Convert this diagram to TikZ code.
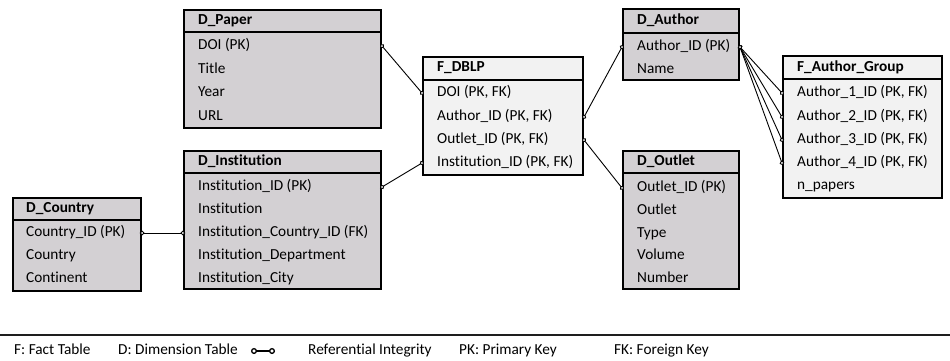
\documentclass[tikz,border=0pt]{standalone}
\usepackage{fontspec}
\setmainfont{Carlito}[Ligatures=CommonOff]
\usetikzlibrary{arrows.meta}
\definecolor{dimfill}{RGB}{211,208,211}
\definecolor{factfill}{RGB}{242,242,242}
\definecolor{linegray}{RGB}{30,30,30}
\tikzset{
  tbl/.style={draw=black, line width=2pt, inner sep=0pt, anchor=north west},
  txt/.style={anchor=west, inner sep=0pt, text height=10.5pt, text depth=3pt},
  hdr/.style={txt, font=\fontsize{15.3}{17}\selectfont\bfseries},
  row/.style={txt, font=\fontsize{15.3}{17}\selectfont},
  sep/.style={line width=1.6pt},
  rel/.style={line width=0.9pt, {Circle[open,fill=white,length=4.6pt,width=4.6pt,line width=0.9pt]}-{Circle[open,fill=white,length=4.6pt,width=4.6pt,line width=0.9pt]}, shorten <=-2.2pt, shorten >=-2.2pt},
  legrel/.style={line width=1.3pt, {Circle[open,fill=white,length=6pt,width=6pt,line width=1.3pt]}-{Circle[open,fill=white,length=6pt,width=6pt,line width=1.3pt]}},
  leg/.style={txt, font=\fontsize{15.3}{17}\selectfont}
}
\begin{document}
\begin{tikzpicture}[x=1pt,y=-1pt]
\useasboundingbox (0,0) rectangle (950,360);
% D_Paper
\node[tbl, fill=dimfill, minimum width=197pt, minimum height=118pt] (paper) at (183,9) {};
\draw[sep] (183,32) -- (380,32);
\node[hdr] (paper-h) at (198,21) {D\_Paper};
\node[row] (paper-1) at (198,46) {DOI (PK)};
\node[row] (paper-2) at (198,70) {Title};
\node[row] (paper-3) at (198,93) {Year};
\node[row] (paper-4) at (198,117) {URL};
% F_DBLP
\node[tbl, fill=factfill, minimum width=160pt, minimum height=118pt] (dblp) at (422,56) {};
\draw[sep] (422,80) -- (582,80);
\node[hdr] (dblp-h) at (437,68) {F\_DBLP};
\node[row] (dblp-1) at (437,93) {DOI (PK, FK)};
\node[row] (dblp-2) at (437,117) {Author\_ID (PK, FK)};
\node[row] (dblp-3) at (437,140) {Outlet\_ID (PK, FK)};
\node[row] (dblp-4) at (437,163) {Institution\_ID (PK, FK)};
% D_Author
\node[tbl, fill=dimfill, minimum width=116pt, minimum height=71pt] (author) at (622,8) {};
\draw[sep] (622,33) -- (738,33);
\node[hdr] (author-h) at (637,21) {D\_Author};
\node[row] (author-1) at (637,47) {Author\_ID (PK)};
\node[row] (author-2) at (637,70) {Name};
% F_Author_Group
\node[tbl, fill=factfill, minimum width=159pt, minimum height=142pt] (group) at (782,55) {};
\draw[sep] (782,79) -- (941,79);
\node[hdr] (group-h) at (797,68) {F\_Author\_Group};
\node[row] (group-1) at (797,93) {Author\_1\_ID (PK, FK)};
\node[row] (group-2) at (797,117) {Author\_2\_ID (PK, FK)};
\node[row] (group-3) at (797,140) {Author\_3\_ID (PK, FK)};
\node[row] (group-4) at (797,163) {Author\_4\_ID (PK, FK)};
\node[row] (group-5) at (797,186) {n\_papers};
% D_Country
\node[tbl, fill=dimfill, minimum width=128pt, minimum height=93pt] (country) at (12,197) {};
\draw[sep] (12,220) -- (140,220);
\node[hdr] (country-h) at (26,209) {D\_Country};
\node[row] (country-1) at (26,233) {Country\_ID (PK)};
\node[row] (country-2) at (26,256) {Country};
\node[row] (country-3) at (26,279) {Continent};
% D_Institution
\node[tbl, fill=dimfill, minimum width=197pt, minimum height=138pt] (inst) at (183,150) {};
\draw[sep] (183,173) -- (380,173);
\node[hdr] (inst-h) at (198,162) {D\_Institution};
\node[row] (inst-1) at (198,187) {Institution\_ID (PK)};
\node[row] (inst-2) at (198,210) {Institution};
\node[row] (inst-3) at (198,233) {Institution\_Country\_ID (FK)};
\node[row] (inst-4) at (198,256) {Institution\_Department};
\node[row] (inst-5) at (198,279) {Institution\_City};
% D_Outlet
\node[tbl, fill=dimfill, minimum width=116pt, minimum height=138pt] (outlet) at (622,150) {};
\draw[sep] (622,173) -- (738,173);
\node[hdr] (outlet-h) at (637,162) {D\_Outlet};
\node[row] (outlet-1) at (637,188) {Outlet\_ID (PK)};
\node[row] (outlet-2) at (637,211) {Outlet};
\node[row] (outlet-3) at (637,234) {Type};
\node[row] (outlet-4) at (637,256) {Volume};
\node[row] (outlet-5) at (637,279) {Number};
% connectors
\draw[rel] (paper-1 -| paper.east) -- (dblp-1 -| dblp.west);
\draw[rel] (inst-1 -| inst.east) -- (dblp-4 -| dblp.west);
\draw[rel] (country-1 -| country.east) -- (inst-3 -| inst.west);
\draw[rel] (dblp-2 -| dblp.east) -- (author-1 -| author.west);
\draw[rel] (dblp-3 -| dblp.east) -- (outlet-1 -| outlet.west);
\draw[rel] (author-1 -| author.east) -- (group-1 -| group.west);
\draw[rel] (author-1 -| author.east) -- (group-2 -| group.west);
\draw[rel] (author-1 -| author.east) -- (group-3 -| group.west);
\draw[rel] (author-1 -| author.east) -- (group-4 -| group.west);
% legend
\coordinate (rule-l) at (0,335);
\coordinate (rule-r) at (950,335);
\draw[line width=2pt, draw=linegray] (rule-l) -- (rule-r);
\node[leg] (leg-f) at (14,351) {F: Fact Table};
\node[leg] (leg-d) at (118,351) {D: Dimension Table};
\coordinate (sym-a) at (251,351);
\coordinate (sym-b) at (275,351);
\draw[legrel] (sym-a) -- (sym-b);
\node[leg] (leg-r) at (308,351) {Referential Integrity};
\node[leg] (leg-pk) at (459,351) {PK: Primary Key};
\node[leg] (leg-fk) at (614,351) {FK: Foreign Key};
\end{tikzpicture}
\end{document}
